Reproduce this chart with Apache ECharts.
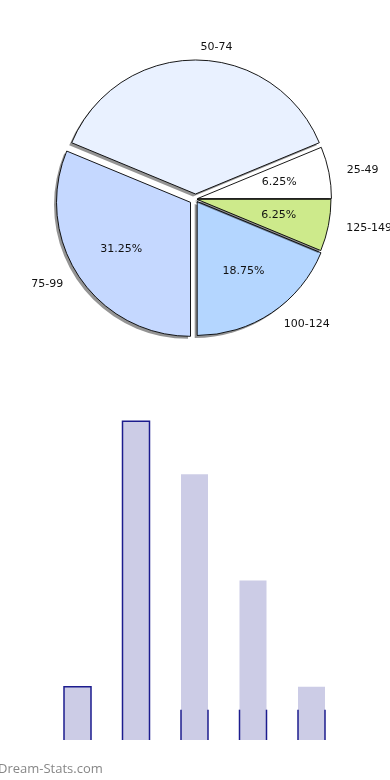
<!DOCTYPE html>
<html>
<head>
<meta charset="utf-8">
<script src="https://cdn.jsdelivr.net/npm/echarts@6/dist/echarts.min.js"></script>
<style>
html,body{margin:0;padding:0;background:#fff;}
#c{width:390px;height:780px;}
</style>
</head>
<body>
<div id="c"></div>
<script>
// ---- data ----
const categories = ['25-49', '50-74', '75-99', '100-124', '125-149'];
const counts = [1, 6, 5, 3, 1];
const outlineHeights = [1, 6, 0.57, 0.57, 0.57];
const pctLabelShown = [true, false, true, true, true];

// ---- styles ----
const sliceColors = ['#ffffff', '#e9f1ff', '#c5d8ff', '#b4d6ff', '#cdea8b'];
const explodePx = [2, 5, 6, 3, 1.5];
const pieCenter = [195.5, 199];
const pieR = 134;
const barW = 27;
const total = counts.reduce((a, b) => a + b, 0);

const hidden = {color: 'rgba(0,0,0,0)', borderWidth: 0, shadowColor: 'rgba(0,0,0,0)', shadowBlur: 0};
const txt = {fontFamily: 'DejaVu Sans', fontSize: 11, color: '#111'};

function pieBase(i, z) {
  return {
    type: 'pie', center: pieCenter, radius: pieR, startAngle: 0, clockwise: false,
    selectedMode: 'multiple', selectedOffset: explodePx[i], avoidLabelOverlap: false,
    silent: true, animation: false, z: z, emphasis: {disabled: true}
  };
}

const series = [];
// filled slices with drop shadow (no border)
categories.forEach((cat, i) => {
  series.push(Object.assign(pieBase(i, 1), {
    label: {show: false}, labelLine: {show: false},
    data: categories.map((c, j) => ({
      name: c, value: counts[j], selected: j === i,
      itemStyle: j === i ? {
        color: sliceColors[j], borderWidth: 0,
        shadowColor: 'rgba(0,0,0,0.42)', shadowBlur: 0.6, shadowOffsetX: -2.5, shadowOffsetY: 2.5
      } : hidden
    }))
  }));
});
// slice outlines + outer name labels
categories.forEach((cat, i) => {
  series.push(Object.assign(pieBase(i, 2), {
    label: Object.assign({show: true, position: 'outside', formatter: '{b}', alignTo: 'none'}, txt),
    labelLine: {show: false, length: 13, length2: 0},
    data: categories.map((c, j) => ({
      name: c, value: counts[j], selected: j === i,
      itemStyle: j === i ? {color: 'rgba(0,0,0,0)', borderColor: '#000', borderWidth: 0.9} : hidden,
      label: {show: j === i}
    }))
  }));
});
// percent labels at 0.6 r
categories.forEach((cat, i) => {
  series.push(Object.assign(pieBase(i, 3), {
    radius: [pieR * 0.2, pieR],
    label: Object.assign({show: true, position: 'inside',
      formatter: p => (p.value / total * 100).toFixed(2) + '%'}, txt),
    labelLine: {show: false},
    data: categories.map((c, j) => ({
      name: c, value: counts[j], selected: j === i,
      itemStyle: hidden,
      label: {show: j === i && pctLabelShown[j]}
    }))
  }));
});

// histogram bars
series.push({
  type: 'bar', xAxisIndex: 0, yAxisIndex: 0, data: counts, barWidth: barW,
  itemStyle: {color: '#ccccE6'}, silent: true, animation: false
});
series.push({
  type: 'custom', xAxisIndex: 0, yAxisIndex: 0, silent: true, animation: false, z: 5,
  data: categories.map((c, i) => [i, outlineHeights[i], counts[i]]),
  encode: {x: 0, y: 1},
  renderItem: function (params, api) {
    const i = api.value(0), h = api.value(1), full = api.value(2);
    const b = api.coord([i, 0]);
    const t = api.coord([i, h]);
    const l = b[0] - barW / 2, r = b[0] + barW / 2;
    const st = {stroke: '#1c1c8e', lineWidth: 1.5, fill: null};
    if (h >= full) {
      return {type: 'polyline', shape: {points: [[l, b[1]], [l, t[1]], [r, t[1]], [r, b[1]]]}, style: st};
    }
    return {type: 'group', children: [
      {type: 'line', shape: {x1: l, y1: b[1], x2: l, y2: t[1]}, style: st},
      {type: 'line', shape: {x1: r, y1: b[1], x2: r, y2: t[1]}, style: st}
    ]};
  }
});

const chart = echarts.init(document.getElementById('c'), null, {renderer: 'canvas'});
chart.setOption({
  backgroundColor: '#fff',
  animation: false,
  grid: {left: 48.25, width: 292.5, top: 368, height: 372},
  xAxis: {type: 'category', data: categories, show: false},
  yAxis: {type: 'value', min: 0, max: 7, show: false},
  graphic: [{
    type: 'text', left: -2, top: 763,
    style: {text: 'Dream-Stats.com', font: '13px "Open Sans"', fill: '#878787'}
  }],
  series: series
});
</script>
</body>
</html>
